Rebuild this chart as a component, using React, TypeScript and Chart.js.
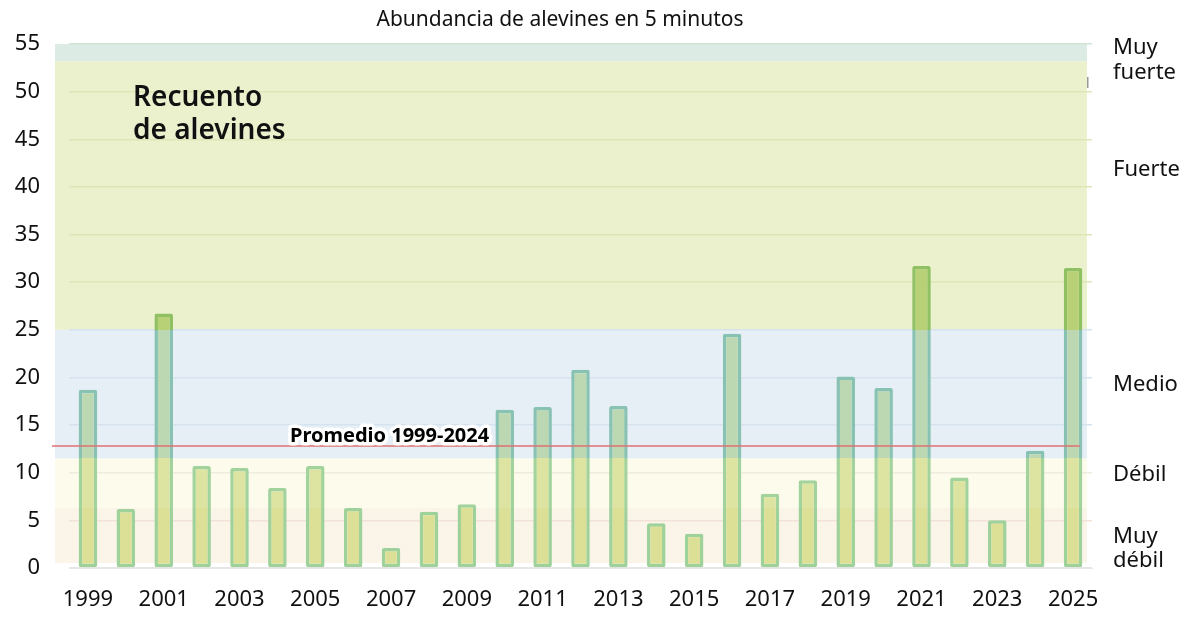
import React, { useEffect, useRef } from 'react';
import { Chart, registerables } from 'chart.js';

Chart.register(...registerables);

// años y recuento de alevines en 5 minutos
const years = [
  '1999', '2000', '2001', '2002', '2003', '2004', '2005', '2006', '2007',
  '2008', '2009', '2010', '2011', '2012', '2013', '2014', '2015', '2016',
  '2017', '2018', '2019', '2020', '2021', '2022', '2023', '2024', '2025',
];
const counts = [
  18.7, 6.2, 26.7, 10.7, 10.5, 8.4, 10.7, 6.3, 2.1,
  5.9, 6.7, 16.6, 16.9, 20.8, 17.0, 4.7, 3.6, 24.6,
  7.8, 9.2, 20.1, 18.9, 31.7, 9.5, 5.0, 12.3, 31.5,
];
const average = 12.8;
const averageLabel = 'Promedio 1999-2024';

// categorías de abundancia (límites en número de alevines)
const bandNames = ['Muy débil', 'Débil', 'Medio', 'Fuerte', 'Muy fuerte'];
const bandLow = [0, 6.3, 11.5, 25, 53.2];
const bandHigh = [6.3, 11.5, 25, 53.2, 55];

const yTicks = [0, 5, 10, 15, 20, 25, 30, 35, 40, 45, 50, 55];

const bandColors = ['#faf5e8', '#fdfbec', '#e6eef6', '#ebf0cd', '#dcebe3'];
const gridColors = ['#f2e2d8', '#efece0', '#d6e3ef', '#dce6b6', '#cfe3d6'];
const barFill = ['#dcdf96', '#dde3a0', '#bcd8b2', '#b8d176', '#b8d176'];
const barBorder = ['#9fd19a', '#a2d39c', '#88c2b2', '#8fc163', '#8fc163'];

const FONT = '"Noto Sans", sans-serif';

function bandIndex(v: number) {
  for (let i = 0; i < bandLow.length; i++) {
    if (v >= bandLow[i] && v < bandHigh[i]) return i;
  }
  return bandLow.length - 1;
}

function bandGradient(chart: any, colors: string[]) {
  const y = chart.scales.y;
  if (!y || !chart.chartArea) return colors[0];
  const y0 = y.getPixelForValue(0);
  const y1 = y.getPixelForValue(55);
  const g = chart.ctx.createLinearGradient(0, y0, 0, y1);
  bandLow.forEach((lo, i) => {
    g.addColorStop(lo / 55, colors[i]);
    g.addColorStop(bandHigh[i] / 55, colors[i]);
  });
  return g;
}

const decorations = {
  id: 'decorations',
  beforeDraw(chart: any) {
    const { ctx, chartArea, scales } = chart;
    const y = scales.y;
    ctx.save();
    bandLow.forEach((lo, i) => {
      const top = y.getPixelForValue(bandHigh[i]);
      const bottom = i === 0 ? y.getPixelForValue(0) - 5 : y.getPixelForValue(lo);
      ctx.fillStyle = bandColors[i];
      ctx.fillRect(chartArea.left - 14, top, chartArea.right - chartArea.left + 9, bottom - top);
    });
    ctx.restore();
  },
  afterDatasetsDraw(chart: any) {
    const { ctx, chartArea, scales } = chart;
    const y = scales.y;
    ctx.save();
    // línea del promedio
    const ay = y.getPixelForValue(average);
    ctx.strokeStyle = '#e07070';
    ctx.lineWidth = 1.5;
    ctx.beginPath();
    ctx.moveTo(chartArea.left - 17, ay);
    ctx.lineTo(chartArea.right - 12, ay);
    ctx.stroke();

    ctx.font = `bold 20px ${FONT}`;
    ctx.textBaseline = 'middle';
    ctx.textAlign = 'left';
    ctx.lineJoin = 'round';
    ctx.strokeStyle = '#ffffff';
    ctx.lineWidth = 7;
    ctx.strokeText(averageLabel, 290, ay - 10);
    ctx.fillStyle = '#000000';
    ctx.fillText(averageLabel, 290, ay - 10);

    // título interior
    ctx.font = `600 28px ${FONT}`;
    ctx.fillStyle = '#111111';
    ctx.fillText('Recuento', 133, 98);
    ctx.fillText('de alevines', 133, 131);

    // título superior
    ctx.font = `21px ${FONT}`;
    ctx.textAlign = 'center';
    ctx.fillStyle = '#111111';
    ctx.fillText('Abundancia de alevines en 5 minutos', 560, 20);

    // nombres de las categorías
    ctx.font = `22px ${FONT}`;
    ctx.textAlign = 'left';
    const lx = chartArea.right + 21;
    const rightLabels: [string, number][] = [
      ['Muy', 48], ['fuerte', 73],
      [bandNames[3], 170],
      [bandNames[2], 385],
      [bandNames[1], 475],
      ['Muy', 537], ['débil', 561],
    ];
    rightLabels.forEach(([t, py]) => ctx.fillText(t, lx, py));

    // pequeña marca junto a la banda superior
    ctx.fillStyle = '#999999';
    ctx.fillRect(chartArea.right - 5, 77, 1.5, 11);
    ctx.restore();
  },
};

const App: React.FC = () => {
  const canvasRef = useRef<HTMLCanvasElement>(null);
  const chartRef = useRef<Chart | null>(null);

  useEffect(() => {
    if (chartRef.current) chartRef.current.destroy();
    if (!canvasRef.current) return;
    const ctx = canvasRef.current.getContext('2d');
    if (!ctx) return;

    // @ts-ignore
    chartRef.current = new Chart(ctx, {
      type: 'bar',
      data: {
        labels: years,
        datasets: [
          {
            data: counts,
            backgroundColor: (c: any) => bandGradient(c.chart, barFill),
            borderColor: (c: any) => bandGradient(c.chart, barBorder),
            borderWidth: 3.5,
            borderSkipped: false,
            borderRadius: 2,
            barPercentage: 0.49,
            categoryPercentage: 1,
          },
        ],
      },
      options: {
        animation: false,
        responsive: true,
        maintainAspectRatio: false,
        layout: { padding: { top: 44, right: 108, left: 0, bottom: 0 } },
        plugins: {
          legend: { display: false },
          tooltip: { enabled: false },
        },
        scales: {
          x: {
            grid: { display: false },
            border: { display: true, color: '#e6e6e6' },
            afterFit: (s: any) => { s.height = 66; },
            ticks: {
              autoSkip: false,
              maxRotation: 0,
              padding: 11,
              color: '#111111',
              font: { family: FONT, size: 22 },
              callback: (_v: any, i: number) => (i % 2 === 0 ? years[i] : ''),
            },
          },
          y: {
            min: 0,
            max: 55,
            afterFit: (s: any) => { s.width = 69; },
            afterBuildTicks: (s: any) => { s.ticks = yTicks.map((v) => ({ value: v })); },
            border: { display: false },
            grid: {
              drawTicks: false,
              color: (c: any) => (c.tick.value === 0 ? '#e6e6e6' : gridColors[bandIndex(c.tick.value - 0.01)]),
              lineWidth: 1.5,
            },
            ticks: {
              padding: 29,
              color: '#111111',
              font: { family: FONT, size: 22 },
            },
          },
        },
      },
      plugins: [decorations],
    });

    return () => {
      if (chartRef.current) {
        chartRef.current.destroy();
        chartRef.current = null;
      }
    };
  }, []);

  return (
    <div style={{ position: 'fixed', left: 0, top: 0, width: 1200, height: 634, background: '#ffffff' }}>
      <canvas ref={canvasRef}></canvas>
    </div>
  );
};

export default App;
